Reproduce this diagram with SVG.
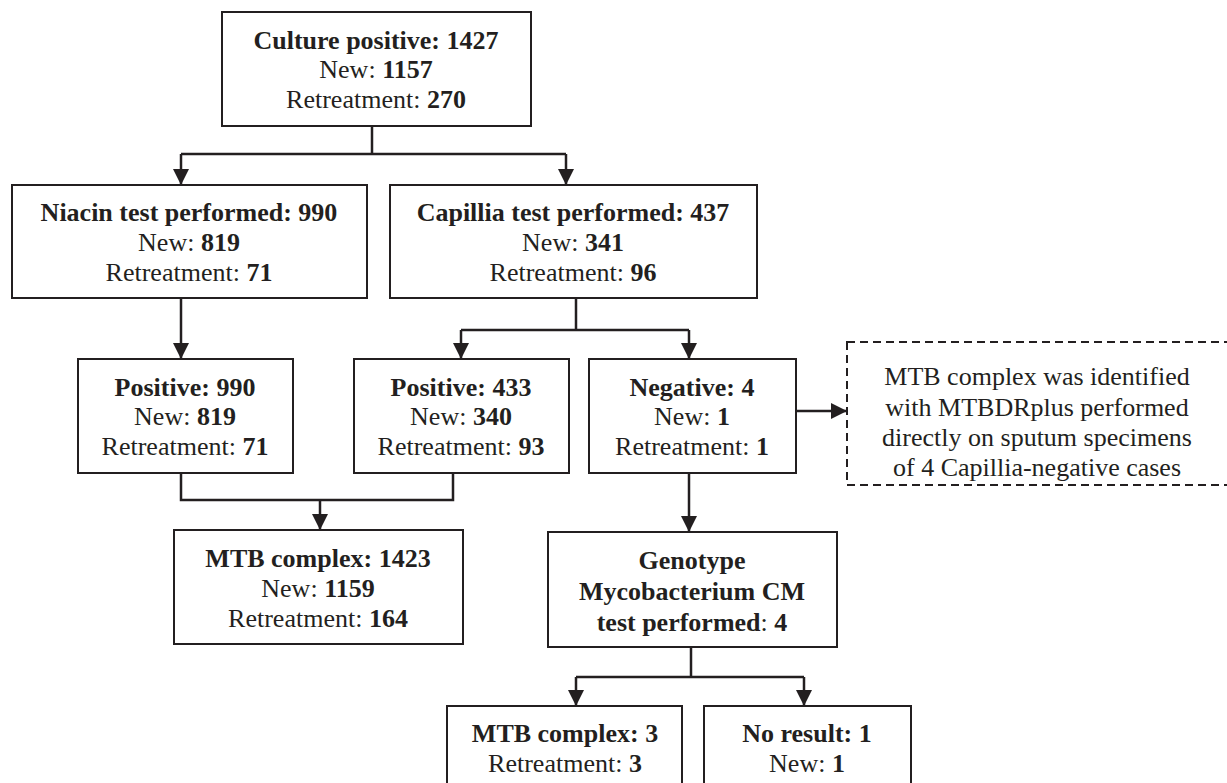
<svg xmlns="http://www.w3.org/2000/svg" width="1227" height="783" viewBox="0 0 1227 783">
  <defs>
    <marker id="arrow" markerUnits="userSpaceOnUse" markerWidth="17" markerHeight="16" refX="16" refY="8" orient="auto">
      <path d="M0,0 L16,8 L0,16 Z" fill="#231f20"/>
    </marker>
    <style>
      .box { fill: #ffffff; stroke: #231f20; stroke-width: 2; }
      .dash { fill: #ffffff; stroke: #231f20; stroke-width: 2; stroke-dasharray: 8 5; }
      .link { fill: none; stroke: #231f20; stroke-width: 2.5; }
      .arr { marker-end: url(#arrow); }
      text { font-family: "Liberation Serif", "Times New Roman", serif; font-size: 26px; fill: #231f20; text-anchor: middle; }
      .b { font-weight: bold; }
    </style>
  </defs>

  <rect width="1227" height="783" fill="#ffffff"/>

  <!-- connectors -->
  <g id="connectors">
    <!-- culture positive split -->
    <path class="link" d="M372,126 V154"/>
    <path class="link" d="M181,154 H566"/>
    <path class="link arr" d="M181,154 V185"/>
    <path class="link arr" d="M566,154 V185"/>
    <!-- niacin to positive -->
    <path class="link arr" d="M181,298 V359"/>
    <!-- capillia split -->
    <path class="link" d="M576,298 V330"/>
    <path class="link" d="M461,330 H689"/>
    <path class="link arr" d="M461,330 V359"/>
    <path class="link arr" d="M689,330 V359"/>
    <!-- positives merge into MTB complex -->
    <path class="link" d="M181,473 V500 H453 V473"/>
    <path class="link arr" d="M320,500 V530"/>
    <!-- negative to MTBDRplus note -->
    <path class="link arr" d="M796,411 H847"/>
    <!-- negative to genotype -->
    <path class="link arr" d="M689,473 V532"/>
    <!-- genotype split -->
    <path class="link" d="M691,647 V677"/>
    <path class="link" d="M576,677 H804"/>
    <path class="link arr" d="M576,677 V706"/>
    <path class="link arr" d="M804,677 V706"/>
  </g>

  <g id="culture">
    <rect class="box" x="222" y="12" width="309" height="114"/>
    <text x="376" y="49" class="b">Culture positive: 1427</text>
    <text x="376" y="78">New: <tspan class="b">1157</tspan></text>
    <text x="376" y="108">Retreatment: <tspan class="b">270</tspan></text>
  </g>

  <g id="niacin">
    <rect class="box" x="12" y="185" width="355" height="113"/>
    <text x="189" y="221" class="b">Niacin test performed: 990</text>
    <text x="189" y="251">New: <tspan class="b">819</tspan></text>
    <text x="189" y="281">Retreatment: <tspan class="b">71</tspan></text>
  </g>

  <g id="capillia">
    <rect class="box" x="390" y="185" width="367" height="113"/>
    <text x="573" y="221" class="b">Capillia test performed: 437</text>
    <text x="573" y="251">New: <tspan class="b">341</tspan></text>
    <text x="573" y="281">Retreatment: <tspan class="b">96</tspan></text>
  </g>

  <g id="niacin-positive">
    <rect class="box" x="78" y="359" width="215" height="114"/>
    <text x="185" y="396" class="b">Positive: 990</text>
    <text x="185" y="425">New: <tspan class="b">819</tspan></text>
    <text x="185" y="455">Retreatment: <tspan class="b">71</tspan></text>
  </g>

  <g id="capillia-positive">
    <rect class="box" x="354" y="359" width="215" height="114"/>
    <text x="461" y="396" class="b">Positive: 433</text>
    <text x="461" y="425">New: <tspan class="b">340</tspan></text>
    <text x="461" y="455">Retreatment: <tspan class="b">93</tspan></text>
  </g>

  <g id="capillia-negative">
    <rect class="box" x="589" y="359" width="207" height="114"/>
    <text x="692" y="396" class="b">Negative: 4</text>
    <text x="692" y="425">New: <tspan class="b">1</tspan></text>
    <text x="692" y="455">Retreatment: <tspan class="b">1</tspan></text>
  </g>

  <g id="mtbdrplus-note">
    <rect class="dash" x="847" y="342" width="381" height="143"/>
    <text x="1037" y="385">MTB complex was identified</text>
    <text x="1037" y="416">with MTBDRplus performed</text>
    <text x="1037" y="446">directly on sputum specimens</text>
    <text x="1037" y="476">of 4 Capillia-negative cases</text>
  </g>

  <g id="mtb-complex">
    <rect class="box" x="174" y="530" width="289" height="114"/>
    <text x="318" y="567" class="b">MTB complex: 1423</text>
    <text x="318" y="597">New: <tspan class="b">1159</tspan></text>
    <text x="318" y="627">Retreatment: <tspan class="b">164</tspan></text>
  </g>

  <g id="genotype">
    <rect class="box" x="548" y="532" width="289" height="115"/>
    <text x="692" y="569" class="b">Genotype</text>
    <text x="692" y="600" class="b">Mycobacterium CM</text>
    <text x="692" y="631"><tspan class="b">test performed</tspan>: <tspan class="b">4</tspan></text>
  </g>

  <g id="genotype-mtb">
    <rect class="box" x="447" y="706" width="235" height="90"/>
    <text x="565" y="742" class="b">MTB complex: 3</text>
    <text x="565" y="772">Retreatment: <tspan class="b">3</tspan></text>
  </g>

  <g id="genotype-no-result">
    <rect class="box" x="704" y="706" width="207" height="90"/>
    <text x="807" y="742" class="b">No result: 1</text>
    <text x="807" y="772">New: <tspan class="b">1</tspan></text>
  </g>
</svg>
